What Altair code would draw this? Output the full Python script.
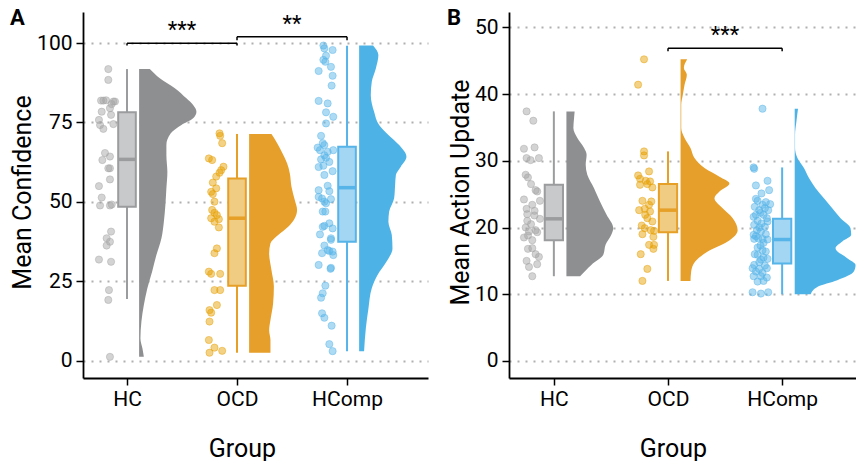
import altair as alt
import pandas as pd

GROUPS = ["HC", "OCD", "HComp"]
GROUP_POS = [1, 2, 3]

# ---------------- Panel A : Mean Confidence ----------------
A_HC_VAL = [91.8, 88.4, 82.0, 81.9, 81.9, 81.6, 81.6, 80.8, 79.5, 78.4,
            77.4, 75.8, 74.5, 74.2, 73.0, 65.4, 64.3, 63.2, 60.6, 60.6,
            57.1, 55.0, 51.4, 49.2, 48.9, 48.9, 40.7, 38.6, 37.5, 36.3,
            31.9, 31.2, 22.3, 19.2, 1.3]
A_HC_JIT = [-0.17, -0.17, -0.19, -0.236, -0.215, -0.124, -0.109, -0.14, -0.155, -0.23,
            -0.145, -0.255, -0.124, -0.245, -0.215, -0.2, -0.155, -0.224, -0.155, -0.17,
            -0.155, -0.255, -0.23, -0.139, -0.245, -0.155, -0.145, -0.185, -0.155, -0.185,
            -0.255, -0.145, -0.164, -0.17, -0.155]

A_OCD_VAL = [71.6, 70.8, 68.5, 63.7, 63.2, 61.1, 60.0, 59.2, 58.0, 56.1,
             54.3, 53.2, 52.5, 50.1, 47.5, 46.6, 45.9, 44.9, 44.6, 43.8,
             42.0, 35.4, 33.9, 28.1, 27.4, 27.4, 22.3, 22.3, 17.6, 16.0,
             15.2, 12.4, 6.6, 4.2, 3.2, 2.6]
A_OCD_JIT = [-0.159, -0.153, -0.135, -0.256, -0.226, -0.123, -0.144, -0.159, -0.189, -0.22,
             -0.189, -0.235, -0.22, -0.205, -0.226, -0.205, -0.183, -0.235, -0.165, -0.205,
             -0.165, -0.183, -0.205, -0.256, -0.235, -0.153, -0.205, -0.153, -0.183, -0.25,
             -0.235, -0.25, -0.256, -0.205, -0.135, -0.25]

A_HCOMP_VAL = [99.2, 98.3, 97.8, 96.0, 94.7, 94.1, 92.5, 91.2, 89.7, 86.6,
               81.8, 81.0, 78.2, 76.8, 74.7, 70.8, 68.5, 67.9, 67.1, 66.3,
               65.8, 66.3, 64.7, 63.4, 62.6, 63.9, 61.4, 61.0, 59.7, 58.5,
               55.1, 53.7, 53.4, 51.6, 51.1, 50.9, 50.1, 49.6, 47.0, 47.0,
               43.3, 42.5, 42.2, 41.7, 39.8, 38.6, 38.1, 36.3, 34.9, 34.4,
               34.6, 33.9, 33.3, 30.2, 29.3, 29.0, 23.7, 21.3, 19.9, 15.0,
               13.6, 11.1, 5.3, 3.1]
A_HCOMP_JIT = [-0.215, -0.206, -0.131, -0.191, -0.215, -0.197, -0.146, -0.258, -0.131, -0.14,
               -0.258, -0.176, -0.191, -0.125, -0.191, -0.236, -0.221, -0.206, -0.267, -0.246,
               -0.176, -0.125, -0.206, -0.236, -0.161, -0.191, -0.215, -0.258, -0.131, -0.206,
               -0.176, -0.258, -0.161, -0.258, -0.227, -0.146, -0.206, -0.191, -0.221, -0.197,
               -0.161, -0.206, -0.221, -0.131, -0.246, -0.146, -0.146, -0.206, -0.176, -0.131,
               -0.161, -0.227, -0.125, -0.258, -0.146, -0.15, -0.197, -0.221, -0.236, -0.227,
               -0.206, -0.14, -0.161, -0.131]

A_HC_VIO_Y = [1.3, 4.0, 7.1, 12.4, 17.6, 22.9, 28.1, 33.3, 38.6, 43.8, 49.1, 54.3,
              59.5, 64.8, 67.9, 71.6, 74.2, 76.3, 78.4, 80.5, 82.6, 85.8, 88.9, 91.8]
A_HC_VIO_W = [0.043, 0.03, 0.012, 0.021, 0.043, 0.075, 0.118, 0.157, 0.203, 0.225, 0.239, 0.248,
              0.257, 0.248, 0.248, 0.288, 0.385, 0.491, 0.521, 0.491, 0.43, 0.325, 0.188, 0.097]
A_OCD_VIO_Y = [2.6, 6.6, 9.7, 12.9, 18.1, 23.4, 28.6, 33.9, 37.0, 39.6,
               42.2, 44.9, 47.5, 50.6, 54.8, 59.0, 62.2, 65.3, 68.5, 71.4]
A_OCD_VIO_W = [0.194, 0.194, 0.182, 0.194, 0.218, 0.225, 0.203, 0.182, 0.194, 0.264,
               0.355, 0.415, 0.436, 0.415, 0.385, 0.37, 0.345, 0.303, 0.255, 0.203]
A_HCOMP_VIO_Y = [3.1, 10.3, 16.6, 22.9, 27.0, 31.2, 35.4, 39.6, 43.8, 47.0, 51.2, 55.3,
                 58.5, 61.1, 64.2, 67.9, 71.1, 74.2, 78.4, 83.6, 87.8, 92.0, 96.2, 99.2]
A_HCOMP_VIO_W = [0.045, 0.061, 0.085, 0.115, 0.166, 0.248, 0.303, 0.297, 0.266, 0.273, 0.318, 0.327,
                 0.334, 0.379, 0.43, 0.364, 0.266, 0.182, 0.136, 0.106, 0.115, 0.152, 0.175, 0.127]

A_BOX_LOW = [19.5, 2.6, 3.1]
A_BOX_Q1 = [48.5, 23.7, 37.5]
A_BOX_MED = [63.4, 44.9, 54.5]
A_BOX_Q3 = [78.2, 57.4, 67.4]
A_BOX_HIGH = [91.8, 71.4, 99.1]

A_SIG_X1 = [1, 2]
A_SIG_X2 = [2, 3]
A_SIG_Y = [99.9, 102.0]
A_SIG_TIP = [99.2, 100.9]
A_SIG_LABEL = ["***", "**"]
A_SIG_LABEL_Y = [101.9, 103.9]

# ---------------- Panel B : Mean Action Update ----------------
B_HC_VAL = [37.4, 36.0, 31.8, 32.0, 30.4, 30.1, 30.4, 27.9, 27.5, 26.5,
            25.6, 25.4, 24.0, 24.2, 23.4, 22.8, 22.5, 22.0, 21.0, 21.3,
            20.0, 19.4, 19.6, 19.3, 18.5, 18.8, 18.1, 16.8, 16.9, 16.0,
            15.6, 15.0, 14.5, 14.1, 12.7, 20.5, 21.8]
B_HC_JIT = [-0.239, -0.18, -0.262, -0.169, -0.239, -0.204, -0.131, -0.247, -0.227, -0.2,
            -0.16, -0.146, -0.122, -0.262, -0.189, -0.239, -0.169, -0.233, -0.233, -0.122,
            -0.247, -0.218, -0.16, -0.146, -0.262, -0.227, -0.189, -0.227, -0.189, -0.16,
            -0.131, -0.239, -0.146, -0.218, -0.189, -0.2, -0.17]

B_OCD_VAL = [45.2, 41.4, 31.4, 30.8, 28.4, 27.8, 27.3, 27.0, 26.4, 26.5,
             26.0, 26.9, 24.0, 23.9, 23.4, 22.6, 22.8, 22.4, 21.4, 20.9,
             19.9, 19.6, 19.5, 19.0, 18.6, 17.4, 17.4, 16.8, 16.0, 13.8,
             12.0, 21.9, 20.3]
B_OCD_JIT = [-0.21, -0.262, -0.21, -0.21, -0.166, -0.262, -0.245, -0.195, -0.245, -0.181,
             -0.137, -0.157, -0.224, -0.146, -0.166, -0.253, -0.204, -0.157, -0.181, -0.137,
             -0.204, -0.151, -0.122, -0.224, -0.128, -0.166, -0.122, -0.128, -0.239, -0.181,
             -0.224, -0.2, -0.23]

B_HCOMP_VAL = [37.8, 29.0, 28.8, 27.0, 26.3, 25.6, 25.1, 24.3, 23.8, 24.0,
               23.4, 23.5, 22.9, 22.6, 22.6, 21.9, 21.9, 21.4, 21.0, 20.4,
               20.6, 20.9, 20.1, 19.6, 19.4, 18.9, 19.0, 18.4, 18.3, 18.2,
               18.3, 17.7, 17.0, 16.6, 16.4, 15.9, 15.5, 15.2, 15.3, 14.4,
               14.3, 13.9, 13.8, 13.9, 13.4, 13.2, 12.7, 12.7, 12.5, 11.9,
               12.0, 10.3, 10.1, 10.3, 22.2, 20.0, 18.7, 17.3, 16.0, 14.8,
               23.1, 21.6]
B_HCOMP_JIT = [-0.172, -0.25, -0.245, -0.128, -0.23, -0.114, -0.181, -0.23, -0.143, -0.215,
               -0.172, -0.105, -0.151, -0.201, -0.122, -0.23, -0.163, -0.134, -0.215, -0.245,
               -0.181, -0.128, -0.151, -0.221, -0.186, -0.25, -0.143, -0.21, -0.172, -0.128,
               -0.245, -0.163, -0.215, -0.172, -0.143, -0.215, -0.163, -0.186, -0.128, -0.245,
               -0.151, -0.259, -0.201, -0.134, -0.23, -0.172, -0.25, -0.186, -0.134, -0.215,
               -0.163, -0.259, -0.186, -0.122, -0.19, -0.2, -0.23, -0.19, -0.24, -0.2,
               -0.24, -0.25]

B_HC_VIO_Y = [12.7, 14.4, 15.9, 17.4, 18.9, 19.9, 21.9, 23.9, 25.9, 27.9, 29.4, 30.9,
              31.9, 33.4, 34.9, 36.4, 37.4]
B_HC_VIO_W = [0.12, 0.218, 0.323, 0.343, 0.393, 0.41, 0.352, 0.294, 0.242, 0.183, 0.169, 0.177,
              0.155, 0.096, 0.061, 0.067, 0.072]
B_OCD_VIO_Y = [12.0, 13.4, 14.9, 16.4, 17.9, 19.6, 21.4, 23.1, 24.4, 25.4, 26.6, 27.6,
               28.9, 30.4, 31.9, 33.4, 34.9, 36.9, 38.4, 39.9, 41.4, 42.9, 43.9, 45.2]
B_OCD_VIO_W = [0.087, 0.093, 0.128, 0.238, 0.413, 0.5, 0.457, 0.355, 0.297, 0.341, 0.428, 0.341,
               0.21, 0.122, 0.087, 0.035, 0.006, 0.006, 0.006, 0.02, 0.035, 0.055, 0.029, 0.058]
B_HCOMP_VIO_Y = [10.0, 11.1, 12.1, 13.4, 14.4, 15.4, 16.9, 17.9, 18.9, 19.9, 21.4,
                 22.9, 24.4, 25.9, 27.4, 28.9, 30.4, 31.9, 33.9, 35.9, 37.8]
B_HCOMP_VIO_W = [0.14, 0.198, 0.373, 0.518, 0.533, 0.46, 0.358, 0.417, 0.495, 0.489, 0.402,
                 0.329, 0.256, 0.183, 0.125, 0.081, 0.024, 0.003, 0.003, 0.015, 0.029]

B_BOX_LOW = [12.7, 12.0, 10.0]
B_BOX_Q1 = [18.1, 19.3, 14.6]
B_BOX_MED = [21.3, 22.6, 18.2]
B_BOX_Q3 = [26.4, 26.5, 21.3]
B_BOX_HIGH = [37.4, 31.4, 29.0]

B_SIG_X1 = [2]
B_SIG_X2 = [3]
B_SIG_Y = [46.85]
B_SIG_TIP = [46.4]
B_SIG_LABEL = ["***"]
B_SIG_LABEL_Y = [47.75]

# ---------------- styling ----------------
POINT_COL = {"HC": "#A2A2A2", "OCD": "#E69F00", "HComp": "#56B4E9"}
BOX_FILL = {"HC": "#C8C9CB", "OCD": "#F0CB82", "HComp": "#A3D6F2"}
BOX_LINE = {"HC": "#9B9C9E", "OCD": "#E69F27", "HComp": "#56B4E9"}
VIO_COL = {"HC": "#8E8F91", "OCD": "#E69F2A", "HComp": "#4DB3E6"}
VIO_NUDGE = 0.11
BOX_HALF = 0.08
FONT = "Roboto"


def make_panel(letter, vals, jits, vio_y, vio_w, box, sig, xdom, ydom, yticks,
               ytitle, width, height, letter_x, ytitle_x, xtitle_x, anchor=False):
    xs = alt.Scale(domain=xdom, nice=False, zero=False)
    ys = alt.Scale(domain=ydom, nice=False, zero=False)
    label_expr = "[" + ",".join("'%s'" % g for g in GROUPS) + "][datum.value - 1]"
    xaxis = alt.Axis(values=GROUP_POS, labelExpr=label_expr, title="Group", grid=False,
                     titleX=xtitle_x, titleY=78, titleBaseline="alphabetic",
                     titleAlign="center", labelBaseline="alphabetic", labelPadding=20)
    yaxis = alt.Axis(values=yticks, title=ytitle, grid=True, gridColor="#B0B0B0",
                     gridDash=[2, 6], gridWidth=1.8, titleX=ytitle_x, titleY=180,
                     titleBaseline="alphabetic", titleAlign="center", titleAngle=270,
                     labelPadding=4)

    def X(f):
        return alt.X(f, type="quantitative", scale=xs, axis=xaxis)

    def Y(f):
        return alt.Y(f, type="quantitative", scale=ys, axis=yaxis)

    low, q1, med, q3, high = box
    layers = []
    for i, g in enumerate(GROUPS):
        pos = GROUP_POS[i]
        vdf = pd.DataFrame({"v": vio_y[i], "w": vio_w[i]}).sort_values("v")
        vdf["x0"] = pos + VIO_NUDGE
        vdf["x1"] = vdf["x0"] + vdf["w"]
        layers.append(
            alt.Chart(vdf).mark_area(orient="horizontal", interpolate="monotone",
                                     color=VIO_COL[g], clip=True)
            .encode(y=Y("v"), x=X("x0"), x2="x1")
        )
    for i, g in enumerate(GROUPS):
        pos = GROUP_POS[i]
        bdf = pd.DataFrame({"x": [pos], "xl": [pos - BOX_HALF], "xr": [pos + BOX_HALF],
                            "lo": [low[i]], "q1": [q1[i]], "med": [med[i]],
                            "q3": [q3[i]], "hi": [high[i]]})
        base = alt.Chart(bdf)
        layers.append(base.mark_rule(color=BOX_LINE[g], strokeWidth=2)
                      .encode(x=X("x"), y=Y("lo"), y2="hi"))
        layers.append(base.mark_rect(fill=BOX_FILL[g], stroke=BOX_LINE[g], strokeWidth=2)
                      .encode(x=X("xl"), x2="xr", y=Y("q1"), y2="q3"))
        layers.append(base.mark_rule(color=BOX_LINE[g], strokeWidth=3.5)
                      .encode(x=X("xl"), x2="xr", y=Y("med")))
    for i, g in enumerate(GROUPS):
        pos = GROUP_POS[i]
        pdf = pd.DataFrame({"v": vals[i], "jit": jits[i]})
        pdf["px"] = pos + pdf["jit"]
        layers.append(
            alt.Chart(pdf).mark_circle(size=52, color=POINT_COL[g], fillOpacity=0.48,
                                       stroke=POINT_COL[g], strokeOpacity=0.55,
                                       strokeWidth=0.8)
            .encode(x=X("px"), y=Y("v"))
        )
    x1, x2, sy, tip, lab, laby = sig
    sdf = pd.DataFrame({"x1": x1, "x2": x2, "y": sy, "tip": tip, "label": lab, "ly": laby})
    sdf["xm"] = (sdf["x1"] + sdf["x2"]) / 2
    sbase = alt.Chart(sdf)
    layers.append(sbase.mark_rule(color="black", strokeWidth=1.5)
                  .encode(x=X("x1"), x2="x2", y=Y("y")))
    layers.append(sbase.mark_rule(color="black", strokeWidth=1.5)
                  .encode(x=X("x1"), y=Y("tip"), y2="y"))
    layers.append(sbase.mark_rule(color="black", strokeWidth=1.5)
                  .encode(x=X("x2"), y=Y("tip"), y2="y"))
    layers.append(sbase.mark_text(fontSize=22, align="center", baseline="alphabetic",
                                  color="black", font=FONT)
                  .encode(x=X("xm"), y=Y("ly"), text="label:N"))
    ldf = pd.DataFrame({"t": [letter]})
    layers.append(alt.Chart(ldf).mark_text(fontSize=22, fontWeight="bold", align="left",
                                           baseline="alphabetic", color="black", font=FONT)
                  .encode(x=alt.value(letter_x), y=alt.value(13), text="t:N"))
    if anchor:
        layers.append(alt.Chart(ldf).mark_rule(opacity=0, strokeWidth=0)
                      .encode(x=alt.value(-83), x2=alt.value(-82), y=alt.value(-12)))
    return alt.layer(*layers).properties(width=width, height=height)


panel_a = make_panel(
    "A",
    [A_HC_VAL, A_OCD_VAL, A_HCOMP_VAL], [A_HC_JIT, A_OCD_JIT, A_HCOMP_JIT],
    [A_HC_VIO_Y, A_OCD_VIO_Y, A_HCOMP_VIO_Y], [A_HC_VIO_W, A_OCD_VIO_W, A_HCOMP_VIO_W],
    (A_BOX_LOW, A_BOX_Q1, A_BOX_MED, A_BOX_Q3, A_BOX_HIGH),
    (A_SIG_X1, A_SIG_X2, A_SIG_Y, A_SIG_TIP, A_SIG_LABEL, A_SIG_LABEL_Y),
    [0.6, 3.736], [-5.35, 109.75], [0, 25, 50, 75, 100], "Mean Confidence",
    345, 366, -73, -53, 159, anchor=True)

panel_b = make_panel(
    "B",
    [B_HC_VAL, B_OCD_VAL, B_HCOMP_VAL], [B_HC_JIT, B_OCD_JIT, B_HCOMP_JIT],
    [B_HC_VIO_Y, B_OCD_VIO_Y, B_HCOMP_VIO_Y], [B_HC_VIO_W, B_OCD_VIO_W, B_HCOMP_VIO_W],
    (B_BOX_LOW, B_BOX_Q1, B_BOX_MED, B_BOX_Q3, B_BOX_HIGH),
    (B_SIG_X1, B_SIG_X2, B_SIG_Y, B_SIG_TIP, B_SIG_LABEL, B_SIG_LABEL_Y),
    [0.607, 3.647], [-2.55, 52.29], [0, 10, 20, 30, 40, 50], "Mean Action Update",
    347, 366, -62, -41, 164)

chart = (
    alt.hconcat(panel_a, panel_b, spacing=81, bounds="flush")
    .properties(padding=0, background="white")
    .configure_view(stroke=None)
    .configure_axis(domainColor="black", domainWidth=1.8, tickColor="black",
                    tickWidth=1.5, tickSize=7, labelColor="black", labelFont=FONT,
                    labelFontSize=21, titleFont=FONT, titleFontSize=25,
                    titleFontWeight="normal", titleColor="black")
)

chart.save("out.html", embed_options={"renderer": "svg", "actions": False})
